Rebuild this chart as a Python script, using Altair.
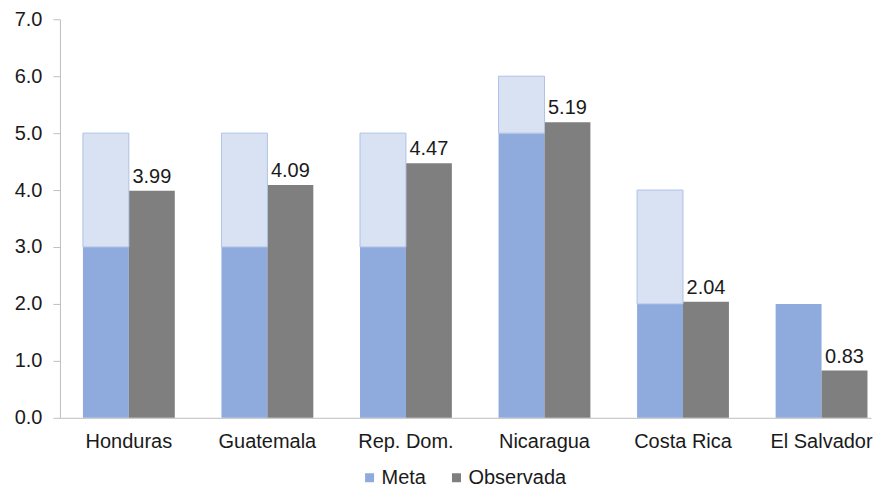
import altair as alt
import pandas as pd

paises = ["Honduras", "Guatemala", "Rep. Dom.", "Nicaragua", "Costa Rica", "El Salvador"]
meta_min = [3.0, 3.0, 3.0, 5.0, 2.0, 2.0]
meta_max = [5.0, 5.0, 5.0, 6.0, 4.0, 2.0]
observada = [3.99, 4.09, 4.47, 5.19, 2.04, 0.83]

series = ["Meta", "Observada"]
FONT = "Liberation Sans"

base_rows = []
for p, lo, obs in zip(paises, meta_min, observada):
    base_rows.append({"pais": p, "serie": "Meta", "y0": 0.0, "y1": lo})
    base_rows.append({"pais": p, "serie": "Observada", "y0": 0.0, "y1": obs})
base_df = pd.DataFrame(base_rows)

range_df = pd.DataFrame({"pais": paises, "serie": ["Meta"] * len(paises),
                         "y0": meta_min, "y1": meta_max})
range_df = range_df[range_df["y1"] > range_df["y0"]]

label_df = pd.DataFrame({"pais": paises, "serie": ["Observada"] * len(paises),
                         "valor": observada})

x_enc = alt.X("pais:N", sort=paises, title=None,
              scale=alt.Scale(paddingInner=0.337, paddingOuter=0.0957, align=0.867),
              axis=alt.Axis(labelAngle=0, ticks=False, labelFontSize=20, labelFont=FONT,
                            labelColor="#1a1a1a", domainColor="#BFBFBF", labelPadding=14))
xo_enc = alt.XOffset("serie:N", scale=alt.Scale(domain=series, paddingInner=0, paddingOuter=0))
y_scale = alt.Scale(domain=[0, 7], nice=False)
y_axis = alt.Axis(values=[0, 1, 2, 3, 4, 5, 6, 7], format=".1f", grid=False, tickSize=7,
                  tickColor="#BFBFBF", domainColor="#BFBFBF", labelFontSize=20,
                  labelFont=FONT, labelColor="#1a1a1a", labelPadding=11)

bars = alt.Chart(base_df).mark_bar().encode(
    x=x_enc,
    xOffset=xo_enc,
    y=alt.Y("y0:Q", scale=y_scale, axis=y_axis, title=None),
    y2="y1:Q",
    color=alt.Color("serie:N", scale=alt.Scale(domain=series, range=["#8FAADC", "#7F7F7F"]),
                    legend=alt.Legend(title=None, orient="none", direction="horizontal",
                                      legendX=300, legendY=449, symbolType="square",
                                      symbolSize=81, symbolStrokeWidth=0,
                                      labelFontSize=20, labelFont=FONT, labelColor="#1a1a1a",
                                      labelOffset=2, columnPadding=20, padding=0)),
)

rng = alt.Chart(range_df).mark_bar(color="#D9E2F3", stroke="#AFC2E5", strokeWidth=1).encode(
    x=alt.X("pais:N", sort=paises),
    xOffset=alt.XOffset("serie:N"),
    y=alt.Y("y0:Q"),
    y2="y1:Q",
)

labels = alt.Chart(label_df).mark_text(fontSize=20, font=FONT, color="#1a1a1a",
                                       baseline="alphabetic", dy=-8).encode(
    x=alt.X("pais:N", sort=paises),
    xOffset=alt.XOffset("serie:N"),
    y=alt.Y("valor:Q"),
    text=alt.Text("valor:Q", format=".2f"),
)

chart = alt.layer(bars, rng, labels).properties(
    width=812, height=399,
    padding={"left": 6, "top": 1, "right": 0, "bottom": 0},
).configure_view(stroke=None)

chart.save("out.html", embed_options={"renderer": "svg", "actions": False})
